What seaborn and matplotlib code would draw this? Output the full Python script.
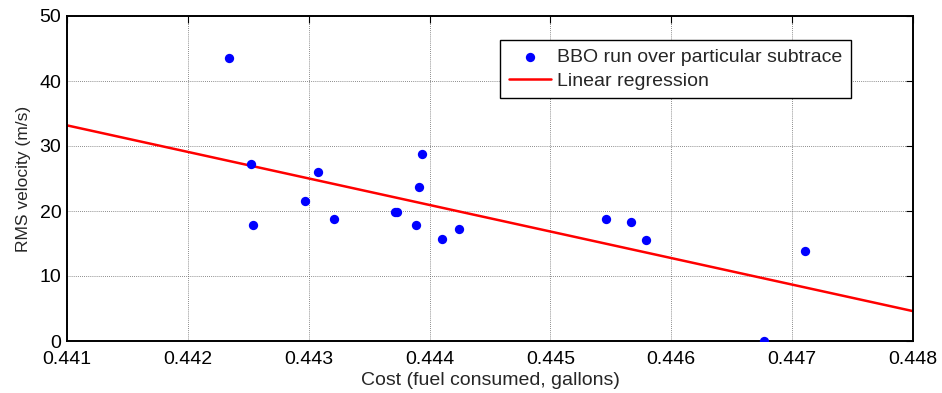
import numpy as np
import pandas as pd
import seaborn as sns
import matplotlib.pyplot as plt

# BBO runs: cost (fuel consumed, gallons) vs RMS velocity (m/s)
cost = [0.44234, 0.44252, 0.44254, 0.44297, 0.44308, 0.44321, 0.44371,
        0.44373, 0.44389, 0.44391, 0.44394, 0.44410, 0.44424, 0.44546,
        0.44567, 0.44579, 0.44677, 0.44711]
rms_velocity = [43.6, 27.2, 17.8, 21.6, 26.0, 18.8, 19.8,
                19.9, 17.8, 23.7, 28.8, 15.7, 17.3, 18.8,
                18.3, 15.5, 0.0, 13.9]

x_ticks = [0.441, 0.442, 0.443, 0.444, 0.445, 0.446, 0.447, 0.448]
y_ticks = [0, 10, 20, 30, 40, 50]

df = pd.DataFrame({'cost': cost, 'rms': rms_velocity})

# least squares line across the whole x range
slope, intercept = np.polyfit(df['cost'], df['rms'], 1)
fit_df = pd.DataFrame({'cost': [x_ticks[0], x_ticks[-1]]})
fit_df['rms'] = slope * fit_df['cost'] + intercept

sns.set_style('white')
plt.rcParams['font.family'] = ['Liberation Sans', 'DejaVu Sans']

fig = plt.figure(figsize=(9.42, 3.93), dpi=100)
ax = fig.add_axes([67/942, 1-341/393, 846/942, 325/393])

sns.scatterplot(data=df, x='cost', y='rms', color='#0000ff', s=45,
                edgecolor='#0000ff', linewidth=0, ax=ax,
                label='BBO run over particular subtrace', zorder=3)
sns.lineplot(data=fit_df, x='cost', y='rms', color='#ff0000', linewidth=1.8,
             ax=ax, label='Linear regression', zorder=2)

ax.set_xlim(x_ticks[0], x_ticks[-1])
ax.set_ylim(y_ticks[0], y_ticks[-1])
ax.set_xticks(x_ticks)
ax.set_xticklabels([f'{t:.3f}' for t in x_ticks])
ax.set_yticks(y_ticks)
ax.grid(True, color='#666666', linestyle=(0, (1, 1.5)), linewidth=0.6)
ax.tick_params(direction='in', length=5, width=0.8, top=True, right=True,
               labelsize=14, colors='black')
ax.tick_params(axis='x', pad=7)
ax.tick_params(axis='y', pad=4)
for side in ax.spines.values():
    side.set_color('black')
    side.set_linewidth(1.4)

ax.set_xlabel('Cost (fuel consumed, gallons)', fontsize=14, labelpad=3)
ax.set_ylabel('RMS velocity (m/s)', fontsize=12.5, labelpad=6)

leg = ax.legend(loc='upper right', bbox_to_anchor=(0.927, 0.927), fontsize=14,
                frameon=True, fancybox=False, edgecolor='black', framealpha=1,
                handlelength=2.2, handletextpad=0.3, borderpad=0.45,
                labelspacing=0.3, borderaxespad=0)
leg.get_frame().set_linewidth(1.0)

plt.savefig('out.png', dpi=100)
